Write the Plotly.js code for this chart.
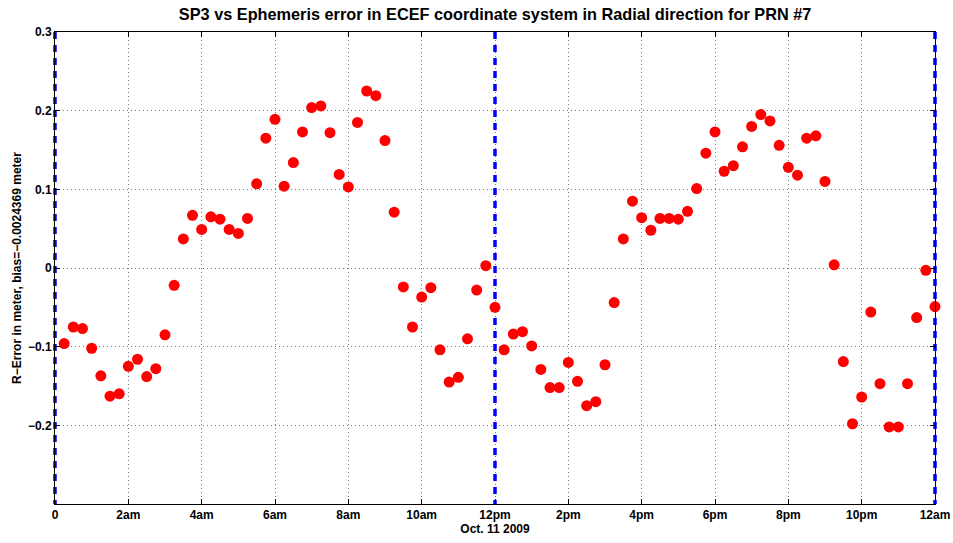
<!DOCTYPE html>
<html>
<head>
<meta charset="utf-8">
<script src="https://cdn.plot.ly/plotly-3.0.1.min.js"></script>
<style>html,body{margin:0;padding:0;background:#fff;}#chart{width:953px;height:543px;}</style>
</head>
<body>
<div id="chart"></div>
<script>
// Hours since 0:00 Oct. 11 2009 (one sample every 15 minutes)
const hours = [
  0.25, 0.5, 0.75, 1.0, 1.25, 1.5, 1.75, 2.0, 2.25, 2.5, 2.75, 3.0,
  3.25, 3.5, 3.75, 4.0, 4.25, 4.5, 4.75, 5.0, 5.25, 5.5, 5.75, 6.0,
  6.25, 6.5, 6.75, 7.0, 7.25, 7.5, 7.75, 8.0, 8.25, 8.5, 8.75, 9.0,
  9.25, 9.5, 9.75, 10.0, 10.25, 10.5, 10.75, 11.0, 11.25, 11.5, 11.75, 12.0,
  12.25, 12.5, 12.75, 13.0, 13.25, 13.5, 13.75, 14.0, 14.25, 14.5, 14.75, 15.0,
  15.25, 15.5, 15.75, 16.0, 16.25, 16.5, 16.75, 17.0, 17.25, 17.5, 17.75, 18.0,
  18.25, 18.5, 18.75, 19.0, 19.25, 19.5, 19.75, 20.0, 20.25, 20.5, 20.75, 21.0,
  21.25, 21.5, 21.75, 22.0, 22.25, 22.5, 22.75, 23.0, 23.25, 23.5, 23.75, 24.0
];
// Radial error (meters)
const radialError = [
  -0.096, -0.075, -0.077, -0.102, -0.137, -0.163, -0.160, -0.125, -0.116, -0.138, -0.128, -0.085,
  -0.022, 0.037, 0.067, 0.049, 0.065, 0.062, 0.049, 0.044, 0.063, 0.107, 0.165, 0.189,
  0.104, 0.134, 0.173, 0.204, 0.206, 0.172, 0.119, 0.103, 0.185, 0.225, 0.219, 0.162,
  0.071, -0.024, -0.075, -0.037, -0.025, -0.104, -0.145, -0.139, -0.090, -0.028, 0.003, -0.050,
  -0.104, -0.084, -0.081, -0.099, -0.129, -0.152, -0.152, -0.120, -0.144, -0.175, -0.170, -0.123,
  -0.044, 0.037, 0.085, 0.064, 0.048, 0.063, 0.063, 0.062, 0.072, 0.101, 0.146, 0.173,
  0.123, 0.130, 0.154, 0.180, 0.195, 0.187, 0.156, 0.128, 0.118, 0.165, 0.168, 0.110,
  0.004, -0.119, -0.198, -0.164, -0.056, -0.147, -0.202, -0.202, -0.147, -0.063, -0.003, -0.049
];
// Dashed vertical markers (hours)
const markerHours = [0, 12, 24];
// Tick definitions
const xTickVals = [0, 2, 4, 6, 8, 10, 12, 14, 16, 18, 20, 22, 24];
const xTickText = ["0", "2am", "4am", "6am", "8am", "10am", "12pm", "2pm", "4pm", "6pm", "8pm", "10pm", "12am"];
const yTickVals = [-0.2, -0.1, 0, 0.1, 0.2, 0.3];
const yTickText = ["\u22120.2", "\u22120.1", "0", "0.1", "0.2", "0.3"];
const yRange = [-0.3, 0.3];

const FONT = "Liberation Sans, Arial, Helvetica, sans-serif";

const vx = [], vy = [];
markerHours.forEach(h => { vx.push(h, h, null); vy.push(yRange[1], yRange[0], null); });

const traces = [
  {
    x: vx, y: vy, type: "scatter", mode: "lines",
    line: {color: "#0000ff", width: 3.5, dash: "7px,6px"},
    cliponaxis: false, hoverinfo: "skip", showlegend: false
  },
  {
    x: hours, y: radialError, type: "scatter", mode: "markers",
    marker: {color: "#ff0000", size: 11, line: {width: 0}},
    cliponaxis: false, showlegend: false
  }
];

const axisCommon = {
  showline: true, linecolor: "#000", linewidth: 1, mirror: "ticks",
  ticks: "inside", ticklen: 5, tickcolor: "#000", tickwidth: 1,
  showgrid: true, gridcolor: "#777", griddash: "1px,3px", gridwidth: 1,
  zeroline: false,
  tickfont: {family: FONT, size: 12, color: "#000", weight: "bold"}
};

const layout = {
  width: 953, height: 543,
  margin: {l: 55, r: 18, t: 32, b: 39},
  paper_bgcolor: "#fff", plot_bgcolor: "#fff",
  title: {
    text: "SP3 vs Ephemeris error in ECEF coordinate system in Radial direction for PRN #7",
    font: {family: FONT, size: 16.3, color: "#000", weight: "bold"},
    x: 0.5195, xanchor: "center", y: 0.973, yanchor: "middle"
  },
  xaxis: Object.assign({}, axisCommon, {
    range: [0, 24], tickvals: xTickVals, ticktext: xTickText,
    title: {text: "Oct. 11 2009", font: {family: FONT, size: 12, color: "#000", weight: "bold"}, standoff: 1}
  }),
  yaxis: Object.assign({}, axisCommon, {
    range: yRange, tickvals: yTickVals, ticktext: yTickText,
    title: {text: "R\u2212Error in meter, bias=\u22120.0024369 meter", font: {family: FONT, size: 12, color: "#000", weight: "bold"}, standoff: 3}
  }),
  showlegend: false
};

Plotly.newPlot("chart", traces, layout, {displayModeBar: false, staticPlot: true}).then(() => {
  // let the vertical dashed lines at the plot edges show their full width
  const tr = document.querySelectorAll("#chart .scatterlayer .trace")[0];
  if (tr) {
    tr.removeAttribute("clip-path");
    tr.querySelectorAll("path, g").forEach(el => el.removeAttribute("clip-path"));
  }
});
</script>
</body>
</html>
